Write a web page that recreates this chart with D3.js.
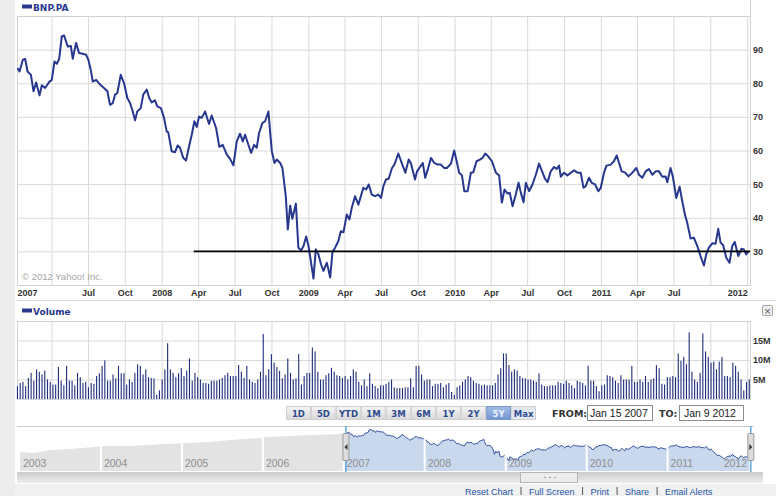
<!DOCTYPE html>
<html>
<head>
<meta charset="utf-8">
<script src="https://cdn.jsdelivr.net/npm/d3@7"></script>
<style>
  body { margin: 0; background: #fff; }
  svg { display: block; }
</style>
</head>
<body>
<div id="chart"></div>
<script>
// ---- data ----
var ticker = "BNP.PA";

// weekly closes, dates as decimal years
var priceDates = [
  2007.014, 2007.028, 2007.051, 2007.067, 2007.083, 2007.106, 2007.124, 2007.142, 2007.165, 2007.181,
  2007.203, 2007.233, 2007.249, 2007.267, 2007.283, 2007.299, 2007.317, 2007.333, 2007.358, 2007.379,
  2007.392, 2007.415, 2007.435, 2007.465, 2007.483, 2007.499, 2007.515, 2007.529, 2007.552, 2007.579,
  2007.613, 2007.629, 2007.647, 2007.666, 2007.681, 2007.697, 2007.720, 2007.743, 2007.765, 2007.784,
  2007.799, 2007.818, 2007.833, 2007.857, 2007.874, 2007.898, 2007.915, 2007.932, 2007.954, 2007.970,
  2007.995,
  2008.016, 2008.034, 2008.045, 2008.068, 2008.091, 2008.109, 2008.125, 2008.147, 2008.166, 2008.182,
  2008.205, 2008.223, 2008.239, 2008.255, 2008.273, 2008.296, 2008.323, 2008.341, 2008.371, 2008.393,
  2008.416, 2008.444, 2008.466, 2008.489, 2008.512, 2008.534, 2008.553, 2008.569, 2008.591, 2008.610,
  2008.630, 2008.648, 2008.664, 2008.687, 2008.705, 2008.728, 2008.739, 2008.751, 2008.769, 2008.785,
  2008.808, 2008.823, 2008.835, 2008.846, 2008.860, 2008.876, 2008.891, 2008.915, 2008.932, 2008.951,
  2008.967, 2008.985,
  2009.001, 2009.017, 2009.035, 2009.051, 2009.069, 2009.087, 2009.103, 2009.126, 2009.137, 2009.149,
  2009.165, 2009.183, 2009.205, 2009.222, 2009.240, 2009.263, 2009.281, 2009.297, 2009.319, 2009.342,
  2009.376, 2009.395, 2009.413, 2009.433, 2009.456, 2009.478, 2009.497, 2009.513, 2009.531, 2009.549,
  2009.572, 2009.588, 2009.615, 2009.638, 2009.663, 2009.686, 2009.702, 2009.729, 2009.743, 2009.782,
  2009.799, 2009.816, 2009.838, 2009.861, 2009.884, 2009.906, 2009.929, 2009.947, 2009.975, 2009.997,
  2010.014, 2010.031, 2010.050, 2010.066, 2010.089, 2010.111, 2010.127, 2010.150, 2010.173, 2010.191,
  2010.209, 2010.225, 2010.255, 2010.282, 2010.304, 2010.323, 2010.341, 2010.362, 2010.377, 2010.396,
  2010.418, 2010.437, 2010.453, 2010.471, 2010.487, 2010.509, 2010.532, 2010.555, 2010.577, 2010.601,
  2010.618, 2010.635, 2010.657, 2010.680, 2010.698, 2010.714, 2010.726, 2010.748, 2010.771, 2010.794,
  2010.816, 2010.840, 2010.862, 2010.881, 2010.896, 2010.919, 2010.937, 2010.960, 2010.983, 2010.999,
  2011.021, 2011.038, 2011.067, 2011.089, 2011.108, 2011.124, 2011.142, 2011.164, 2011.188, 2011.215,
  2011.242, 2011.260, 2011.283, 2011.306, 2011.328, 2011.352, 2011.374, 2011.397, 2011.420, 2011.442,
  2011.454, 2011.476, 2011.492, 2011.515, 2011.538, 2011.556, 2011.574, 2011.590, 2011.613, 2011.635,
  2011.659, 2011.681, 2011.704, 2011.720, 2011.738, 2011.761, 2011.784, 2011.802, 2011.818, 2011.836,
  2011.857, 2011.879, 2011.898, 2011.915, 2011.939, 2011.961, 2011.977, 2011.993, 2012.011
];
var priceClose = [
  84.5, 83.5, 87.0, 87.2, 83.5, 82.5, 77.6, 80.2, 76.4, 79.4,
  78.6, 80.5, 81.0, 86.5, 85.8, 87.2, 93.9, 94.2, 90.9, 91.1,
  87.3, 92.0, 89.0, 88.7, 88.5, 87.0, 84.0, 80.5, 81.0, 79.6,
  78.3, 77.6, 73.6, 74.1, 76.6, 77.1, 82.5, 80.0, 75.6, 74.1,
  72.1, 69.0, 71.6, 72.6, 76.6, 78.1, 75.6, 74.3, 74.9, 73.1,
  72.6,
  69.7, 65.7, 65.4, 59.8, 59.5, 61.5, 60.8, 57.8, 57.0, 60.3,
  64.7, 68.7, 67.0, 70.1, 69.7, 71.6, 67.9, 70.4, 66.7, 61.1,
  61.7, 58.8, 57.5, 55.6, 62.7, 65.0, 62.7, 64.7, 61.7, 59.3,
  61.7, 60.8, 65.2, 68.2, 68.7, 71.6, 65.7, 59.8, 56.3, 57.3,
  56.3, 54.8, 50.5, 46.4, 36.5, 43.6, 39.7, 44.2, 31.1, 30.3,
  31.6, 34.4,
  31.6, 27.1, 21.9, 30.6, 29.1, 26.1, 24.2, 26.6, 24.7, 22.2,
  29.8, 31.1, 33.1, 36.0, 35.7, 41.0, 39.5, 43.0, 46.4, 43.9,
  48.9, 48.4, 49.9, 46.9, 46.4, 46.9, 45.9, 49.4, 51.4, 51.6,
  54.8, 55.8, 59.1, 56.3, 53.4, 57.3, 56.1, 51.4, 53.8, 56.3,
  51.9, 54.3, 57.8, 56.3, 55.8, 55.8, 54.8, 54.8, 56.1, 60.0,
  56.8, 53.4, 52.6, 47.9, 47.9, 53.4, 53.5, 56.8, 57.3, 57.8,
  59.1, 58.5, 56.8, 53.4, 52.6, 44.5, 48.4, 47.2, 47.4, 43.4,
  46.9, 50.4, 47.4, 44.6, 50.4, 47.9, 49.9, 52.8, 56.1, 53.4,
  51.6, 50.6, 53.8, 55.1, 54.5, 55.5, 52.2, 53.4, 52.6, 53.4,
  54.1, 53.4, 53.4, 48.9, 49.4, 51.9, 50.4, 49.9, 47.9, 48.9,
  53.4, 55.5, 55.8, 56.8, 58.5, 56.3, 53.8, 53.5, 52.3, 53.4,
  54.8, 52.8, 51.9, 53.8, 54.5, 52.8, 53.8, 53.8, 52.2, 52.3,
  50.6, 54.8, 52.2, 45.9, 49.2, 44.9, 41.0, 38.5, 33.8, 34.1,
  31.6, 28.6, 25.8, 29.1, 31.1, 32.4, 32.3, 36.7, 32.6, 31.8,
  28.1, 26.6, 31.6, 32.8, 28.6, 30.8, 30.6, 29.1, 30.1
];

// weekly volume in millions of shares, first to last week
var volumeFirstWeek = "2007-01-06";
var volumeLastWeek = "2012-01-06";
var volumeMillions = [
  3.3, 4.1, 4.4, 3.3, 5.4, 6.7, 4.7, 7.6, 7.0, 6.3,
  7.3, 5.0, 4.4, 3.7, 3.7, 8.2, 4.7, 3.5, 8.5, 4.7,
  4.7, 3.5, 6.7, 5.6, 4.1, 4.4, 3.0, 4.1, 3.9, 5.9,
  6.6, 8.5, 9.9, 4.7, 4.7, 6.3, 5.3, 8.5, 6.6, 6.6,
  3.7, 5.0, 4.4, 6.7, 8.9, 8.5, 6.3, 7.6, 5.6, 5.4,
  5.3, 1.1, 2.2, 5.0, 7.6, 14.3, 7.6, 6.7, 5.6, 6.6,
  7.9, 5.9, 7.3, 10.4, 4.7, 6.7, 5.6, 5.0, 4.1, 4.1,
  3.9, 4.7, 4.7, 4.7, 5.0, 5.4, 6.1, 6.7, 5.9, 5.9,
  5.9, 8.7, 7.0, 5.4, 8.5, 5.0, 4.4, 4.1, 5.0, 7.0,
  16.7, 6.1, 7.6, 11.5, 9.3, 8.2, 7.2, 5.3, 6.3, 10.4,
  6.7, 5.0, 5.3, 11.5, 3.7, 5.9, 6.7, 6.7, 13.2, 12.2,
  7.0, 5.0, 5.0, 6.1, 6.6, 8.0, 7.0, 6.1, 5.9, 5.4,
  5.9, 5.0, 5.9, 7.6, 7.0, 4.4, 3.5, 5.0, 3.3, 6.6,
  3.9, 3.3, 2.8, 3.5, 3.5,
  3.9, 4.4, 5.0, 3.0, 2.8, 2.8, 2.8, 3.0, 3.0, 5.3,
  3.0, 8.5, 8.5, 6.3, 4.7, 5.0, 5.0, 3.3, 3.9, 3.9,
  4.1, 3.0, 3.7, 4.1, 1.8, 1.1, 3.0, 3.5, 4.4, 5.0,
  5.9, 5.6, 4.7, 4.1, 3.9, 3.5, 3.7, 3.5, 3.5, 3.5,
  4.1, 6.3, 7.9, 11.7, 11.7, 8.7, 7.0, 7.6, 7.3, 5.9,
  5.4, 5.3, 5.0, 5.0, 4.7, 4.4, 6.6, 3.7, 3.3, 3.3,
  3.5, 3.5, 3.5, 4.4, 4.1, 3.9, 4.7, 4.1, 3.5, 2.8,
  4.7, 4.4, 4.1, 3.5, 8.5, 4.7, 4.7, 3.3, 2.0, 3.5,
  3.7, 6.1, 5.9, 5.6, 4.7, 4.1, 6.1, 5.0, 5.0, 5.0,
  8.5, 4.4, 4.4, 5.0, 4.4, 5.9, 4.4, 5.0, 5.3, 8.7,
  7.9, 3.9, 3.7, 5.6, 5.6, 5.9, 5.6, 11.7, 9.8, 10.8,
  8.9, 17.1, 7.0, 5.0, 4.4, 6.7, 16.8, 12.2, 10.8, 9.3,
  9.6, 7.6, 9.6, 10.8, 5.9, 5.9, 5.6, 9.3, 8.5, 7.0,
  5.0, 2.2, 4.4, 5.0
];

// navigator history before the selected range
var pastDates = [2003.0, 2003.185, 2003.37, 2003.62, 2003.99, 2004.03, 2004.36, 2004.61, 2004.79, 2005.0,
  2005.04, 2005.35, 2005.6, 2005.84, 2005.99, 2006.03, 2006.34, 2006.58, 2006.83, 2007.04];
var pastClose = [41.9, 39.5, 46.5, 48.8, 54.7, 55.8, 55.8, 58.1, 60.5, 61.6,
  62.8, 65.1, 69.8, 73.3, 74.4, 76.7, 79.0, 81.4, 82.6, 85.0];
var navigatorYears = [2003, 2004, 2005, 2006, 2007, 2008, 2009, 2010, 2011, 2012];

var priceTicks = [30, 40, 50, 60, 70, 80, 90];
var volumeTicks = [5, 10, 15];
var supportLevel = 30;
var supportFrom = 2008.218;

var rangeButtons = ["1D", "5D", "YTD", "1M", "3M", "6M", "1Y", "2Y", "5Y", "Max"];
var selectedRange = "5Y";
var fromText = "Jan 15 2007";
var toText = "Jan 9 2012";
var copyright = "\u00a9 2012 Yahoo! Inc.";
var footerLinks = ["Reset Chart", "Full Screen", "Print", "Share", "Email Alerts"];

// ---- helpers ----
function yearToDate(t) {
  var yr = Math.floor(t);
  var a = new Date(yr, 0, 1), b = new Date(yr + 1, 0, 1);
  return new Date(+a + (t - yr) * (b - a));
}
var prices = priceDates.map(function (t, i) { return { date: yearToDate(t), close: priceClose[i] }; });
var pastPrices = pastDates.map(function (t, i) { return { date: yearToDate(t), close: pastClose[i] }; });

var W = 776, H = 496;
var left = 17, right = 750;
var boldFont = "'DejaVu Sans', Verdana, sans-serif";
var plainFont = "'Liberation Sans', Arial, sans-serif";

var svg = d3.select("#chart").append("svg")
  .attr("width", W).attr("height", H)
  .style("font-family", boldFont);

var defs = svg.append("defs");

// page background
svg.append("rect").attr("width", W).attr("height", H).attr("fill", "#fff");
svg.append("rect").attr("x", 0).attr("y", 0).attr("width", 15).attr("height", H).attr("fill", "#ededed");
svg.append("rect").attr("x", 15).attr("y", 484).attr("width", W - 15).attr("height", 12).attr("fill", "#f1f1f1");

// ---- price panel ----
var top1 = 16, bottom1 = 285;
var x = d3.scaleTime()
  .domain([new Date(2007, 0, 5), new Date(2012, 0, 8)])
  .range([left, right]);
var y = d3.scaleLinear().domain([20, 100]).range([bottom1, top1]);

var quarters = d3.timeMonth.every(3).range(new Date(2007, 3, 1), new Date(2012, 0, 2));

function vGrid(g, y0, y1) {
  g.append("g")
    .attr("transform", "translate(0," + y1 + ")")
    .call(d3.axisBottom(x).tickValues(quarters).tickSize(-(y1 - y0)).tickFormat(""))
    .call(function (a) { a.select(".domain").remove(); })
    .selectAll("line").attr("stroke", "#d9d9d9");
}

// legend header
svg.append("rect").attr("x", 22).attr("y", 4.5).attr("width", 10).attr("height", 4).attr("fill", "#2b3990");
svg.append("text").attr("x", 33).attr("y", 10.5).text(ticker)
  .style("font-size", "9px").style("font-weight", "bold").attr("fill", "#2b3990");
svg.append("line").attr("x1", right + 0.5).attr("x2", right + 0.5).attr("y1", 0).attr("y2", top1)
  .attr("stroke", "#d0d0d0");

vGrid(svg, top1, bottom1);

var yAxis = svg.append("g")
  .attr("transform", "translate(" + right + ",0)")
  .call(d3.axisRight(y).tickValues(priceTicks).tickSize(-(right - left)).tickPadding(3));
yAxis.select(".domain").remove();
yAxis.selectAll("line").attr("stroke", "#d9d9d9");
yAxis.selectAll("text").style("font-size", "9px").style("font-weight", "bold").attr("fill", "#333");

// frame
svg.append("rect").attr("x", left + 0.5).attr("y", top1 + 0.5)
  .attr("width", right - left).attr("height", bottom1 - top1)
  .attr("fill", "none").attr("stroke", "#d2d2d2");

svg.append("text").attr("x", 22).attr("y", 279.5).text(copyright)
  .style("font-family", plainFont).style("font-size", "9.5px").attr("fill", "#a6a6a6");

// x labels
var labelTicks = [x.domain()[0]].concat(quarters.filter(function (d) {
  var px = x(d);
  return px - left > 40 && (right - px > 40 || d.getMonth() === 0);
}));
var fmtMonth = d3.timeFormat("%b"), fmtYear = d3.timeFormat("%Y");
var xAxis = svg.append("g")
  .attr("transform", "translate(0," + bottom1 + ")")
  .call(d3.axisBottom(x).tickValues(labelTicks).tickSize(0).tickPadding(5)
    .tickFormat(function (d) { return d.getMonth() === 0 ? fmtYear(d) : fmtMonth(d); }));
xAxis.select(".domain").remove();
xAxis.selectAll("text").style("font-size", "9px").style("font-weight", "bold").attr("fill", "#333")
  .attr("text-anchor", function (d, i) {
    if (i === 0) return "start";
    if (i === labelTicks.length - 1) return "end";
    return "middle";
  });

defs.append("clipPath").attr("id", "plotClip")
  .append("rect").attr("x", left).attr("y", top1).attr("width", right - left + 2).attr("height", bottom1 - top1);

svg.append("path")
  .datum(prices)
  .attr("clip-path", "url(#plotClip)")
  .attr("fill", "none")
  .attr("stroke", "#27378e")
  .attr("stroke-width", 2)
  .attr("stroke-linejoin", "round")
  .attr("d", d3.line().x(function (d) { return x(d.date); }).y(function (d) { return y(d.close); }));

svg.append("line")
  .attr("x1", x(yearToDate(supportFrom))).attr("x2", right)
  .attr("y1", y(supportLevel)).attr("y2", y(supportLevel))
  .attr("stroke", "#000").attr("stroke-width", 1.6);

// ---- volume panel ----
svg.append("line").attr("x1", left).attr("x2", W).attr("y1", 300.5).attr("y2", 300.5).attr("stroke", "#d6d6d6");
svg.append("rect").attr("x", 22).attr("y", 308.5).attr("width", 10).attr("height", 4).attr("fill", "#2b3990");
svg.append("text").attr("x", 33).attr("y", 315).text("Volume")
  .style("font-size", "9px").style("font-weight", "bold").attr("fill", "#2b3990");

// close button
svg.append("rect").attr("x", 762.5).attr("y", 305.5).attr("width", 10).attr("height", 10).attr("rx", 1)
  .attr("fill", "#ececec").attr("stroke", "#a8a8a8");
svg.append("text").attr("x", 767.5).attr("y", 313.5).attr("text-anchor", "middle").text("\u00d7")
  .style("font-size", "9px").attr("fill", "#555");

var top2 = 321, bottom2 = 399;
var vy = d3.scaleLinear().domain([0, 20]).range([bottom2, top2]);
vGrid(svg, top2, bottom2);
var vAxis = svg.append("g")
  .attr("transform", "translate(" + right + ",0)")
  .call(d3.axisRight(vy).tickValues(volumeTicks).tickSize(-(right - left)).tickPadding(3)
    .tickFormat(function (d) { return d + "M"; }));
vAxis.select(".domain").remove();
vAxis.selectAll("line").attr("stroke", "#d9d9d9");
vAxis.selectAll("text").style("font-size", "9px").style("font-weight", "bold").attr("fill", "#333");
svg.append("rect").attr("x", left + 0.5).attr("y", top2 + 0.5)
  .attr("width", right - left).attr("height", bottom2 - top2)
  .attr("fill", "none").attr("stroke", "#d2d2d2");

var vx = d3.scalePoint()
  .domain(d3.range(volumeMillions.length))
  .range([x(new Date(volumeFirstWeek)), x(new Date(volumeLastWeek))]);
svg.append("g")
  .selectAll("rect")
  .data(volumeMillions)
  .enter()
  .append("rect")
  .attr("x", function (d, i) { return vx(i) - 0.5; })
  .attr("width", 1.1)
  .attr("y", function (d) { return vy(d); })
  .attr("height", function (d) { return vy(0) - vy(d); })
  .attr("fill", "#1f2d7c");

// ---- range buttons and dates ----
var btnGrad = defs.append("linearGradient").attr("id", "btnGrad").attr("x1", 0).attr("y1", 0).attr("x2", 0).attr("y2", 1);
btnGrad.append("stop").attr("offset", "0%").attr("stop-color", "#f6f6f6");
btnGrad.append("stop").attr("offset", "100%").attr("stop-color", "#d8d8d8");
var selGrad = defs.append("linearGradient").attr("id", "selGrad").attr("x1", 0).attr("y1", 0).attr("x2", 0).attr("y2", 1);
selGrad.append("stop").attr("offset", "0%").attr("stop-color", "#a3bfe8");
selGrad.append("stop").attr("offset", "100%").attr("stop-color", "#7396d0");

var bx = d3.scaleBand().domain(rangeButtons).range([286, 535]).paddingInner(0.05);
var btn = svg.append("g").selectAll("g").data(rangeButtons).enter().append("g");
btn.append("rect")
  .attr("x", function (d) { return bx(d) + 0.5; })
  .attr("y", 406.5)
  .attr("width", bx.bandwidth())
  .attr("height", 13)
  .attr("fill", function (d) { return d === selectedRange ? "url(#selGrad)" : (d === "Max" ? "#e3e8f2" : "url(#btnGrad)"); })
  .attr("stroke", function (d) { return d === selectedRange ? "#7a98cc" : "#cfcfcf"; });
btn.append("text")
  .attr("x", function (d) { return bx(d) + bx.bandwidth() / 2 + 0.5; })
  .attr("y", 416.5)
  .attr("text-anchor", "middle")
  .text(function (d) { return d; })
  .style("font-size", "8.5px").style("font-weight", "bold")
  .attr("fill", function (d) { return d === selectedRange ? "#eef3ff" : "#2d4b8e"; });

svg.append("text").attr("x", 552).attr("y", 417).text("FROM:")
  .style("font-size", "9.5px").style("font-weight", "bold").attr("fill", "#333");
svg.append("rect").attr("x", 587.5).attr("y", 405.5).attr("width", 65).attr("height", 15)
  .attr("fill", "#fff").attr("stroke", "#8c8c8c");
svg.append("text").attr("x", 590).attr("y", 416.5).text(fromText)
  .style("font-family", plainFont).style("font-size", "10.5px").attr("fill", "#222");
svg.append("text").attr("x", 659).attr("y", 417).text("TO:")
  .style("font-size", "9.5px").style("font-weight", "bold").attr("fill", "#333");
svg.append("rect").attr("x", 679.5).attr("y", 405.5).attr("width", 64).attr("height", 15)
  .attr("fill", "#fff").attr("stroke", "#8c8c8c");
svg.append("text").attr("x", 684).attr("y", 416.5).text(toText)
  .style("font-family", plainFont).style("font-size", "10.5px").attr("fill", "#222");

// ---- navigator ----
var top3 = 426, bottom3 = 471;
var nx = d3.scaleTime().domain([new Date(2003, 0, 1), new Date(2012, 0, 8)]).range([20, right]);
var ny = d3.scaleLinear().domain([0, 100]).range([470, 427]);

svg.append("line").attr("x1", left).attr("x2", right + 4).attr("y1", top3 + 0.5).attr("y2", top3 + 0.5)
  .attr("stroke", "#cccccc");

var navArea = d3.area()
  .x(function (d) { return nx(d.date); })
  .y0(bottom3)
  .y1(function (d) { return ny(d.close); });

svg.append("path").datum(pastPrices).attr("fill", "#e3e3e3").attr("d", navArea);
svg.append("path").datum(prices).attr("fill", "#c9d8ec").attr("d", navArea);
svg.append("path").datum(prices).attr("fill", "none").attr("stroke", "#33509c").attr("stroke-width", 1)
  .attr("d", d3.line().x(function (d) { return nx(d.date); }).y(function (d) { return ny(d.close); }));

svg.append("g").selectAll("line")
  .data(navigatorYears.slice(1, -1))
  .enter().append("line")
  .attr("x1", function (d) { return nx(new Date(d, 0, 1)); })
  .attr("x2", function (d) { return nx(new Date(d, 0, 1)); })
  .attr("y1", top3 + 1).attr("y2", bottom3)
  .attr("stroke", "#fff").attr("stroke-width", 2);

svg.append("g").selectAll("text")
  .data(navigatorYears)
  .enter().append("text")
  .attr("x", function (d) {
    var px = nx(new Date(d, 0, 1)) + 3;
    return px + 26 > right ? right - 3 : px;
  })
  .attr("text-anchor", function (d) { return nx(new Date(d, 0, 1)) + 29 > right ? "end" : "start"; })
  .attr("y", 467)
  .text(function (d) { return d; })
  .style("font-family", plainFont).style("font-size", "10.5px").attr("fill", "#8f8f8f");

function handle(px, dir) {
  svg.append("line").attr("x1", px).attr("x2", px).attr("y1", top3).attr("y2", bottom3 + 1)
    .attr("stroke", "#3f95d6").attr("stroke-width", 1.2);
  svg.append("rect").attr("x", px - 3).attr("y", 433.5).attr("width", 6).attr("height", 27).attr("rx", 1)
    .attr("fill", "#dcdcdc").attr("stroke", "#9a9a9a");
  var t = dir < 0
    ? [[px + 1.5, 444], [px - 1.5, 447], [px + 1.5, 450]]
    : [[px - 1.5, 444], [px + 1.5, 447], [px - 1.5, 450]];
  svg.append("path").attr("d", d3.line()(t) + "Z").attr("fill", "#333");
}
handle(nx(prices[0].date) + 1, -1);
handle(nx(prices[prices.length - 1].date) + 1.5, 1);

// scrollbar
var sGrad = defs.append("linearGradient").attr("id", "scrollGrad").attr("x1", 0).attr("y1", 0).attr("x2", 0).attr("y2", 1);
sGrad.append("stop").attr("offset", "0%").attr("stop-color", "#cbcbcb");
sGrad.append("stop").attr("offset", "100%").attr("stop-color", "#ededed");
svg.append("rect").attr("x", left).attr("y", 472).attr("width", 763 - left).attr("height", 11).attr("fill", "url(#scrollGrad)");
svg.append("rect").attr("x", 520.5).attr("y", 472.5).attr("width", 57).attr("height", 10)
  .attr("fill", "#ececec").attr("stroke", "#b5b5b5");
svg.append("g").selectAll("line").data([-5, 0, 5]).enter().append("line")
  .attr("x1", function (d) { return 549 + d; }).attr("x2", function (d) { return 549 + d + 2; })
  .attr("y1", 477.5).attr("y2", 477.5).attr("stroke", "#a0a0a0");

// footer links
var fx = 465;
footerLinks.forEach(function (label, i) {
  var t = svg.append("text").attr("x", fx).attr("y", 494.5).text(label)
    .style("font-family", plainFont).style("font-size", "9px").attr("fill", "#1f55a8");
  fx += t.node().getComputedTextLength() + 8;
  if (i < footerLinks.length - 1) {
    svg.append("line").attr("x1", fx).attr("x2", fx).attr("y1", 487).attr("y2", 495).attr("stroke", "#555");
    fx += 8;
  }
});
</script>
</body>
</html>
